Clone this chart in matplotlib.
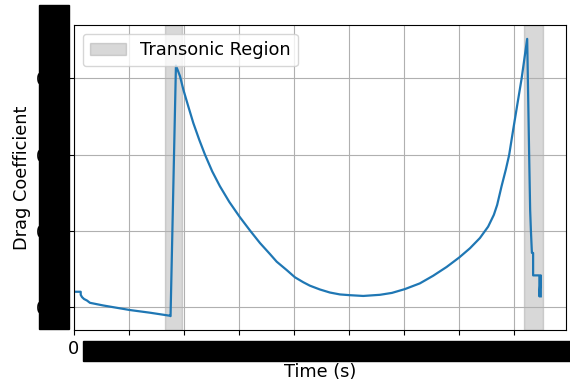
"""Drag coefficient over the flight, with transonic regions shaded."""

import matplotlib
matplotlib.use("Agg")
import matplotlib.pyplot as plt
from matplotlib.patches import Rectangle
from matplotlib.ticker import MultipleLocator

FS = 12.8

# Drag coefficient trace
time_s = [0.00, 0.61, 0.61, 0.73, 0.91, 1.18, 1.45, 2.66, 5.09, 6.91, 8.73,
          8.78, 9.27, 9.64, 9.94, 10.39, 10.85, 11.39, 11.91, 12.57, 13.27,
          14.12, 15.03, 16.00, 16.91, 17.82, 18.43, 19.34, 20.09, 20.85,
          21.45, 22.36, 23.27, 24.18, 25.09, 26.30, 27.82, 28.91, 30.09,
          31.45, 32.66, 33.88, 35.03, 36.00, 36.91, 37.66, 38.18, 38.48,
          38.88, 39.27, 39.57, 39.94, 40.39, 40.70, 41.21, 41.39, 41.48,
          41.55, 41.64, 41.75, 41.75, 42.32, 42.32, 42.45, 42.45]
drag_coef = [0.240, 0.240, 0.232, 0.226, 0.221, 0.217, 0.211, 0.204, 0.192,
             0.185, 0.177, 0.176, 0.834, 0.806, 0.771, 0.727, 0.683, 0.639,
             0.600, 0.556, 0.517, 0.476, 0.438, 0.401, 0.368, 0.339, 0.319,
             0.297, 0.278, 0.265, 0.256, 0.246, 0.238, 0.233, 0.231, 0.229,
             0.232, 0.237, 0.247, 0.262, 0.282, 0.305, 0.330, 0.354, 0.381,
             0.411, 0.442, 0.468, 0.517, 0.561, 0.599, 0.666, 0.745, 0.799,
             0.904, 0.599, 0.455, 0.400, 0.342, 0.342, 0.283, 0.283, 0.228,
             0.283, 0.228]

# Transonic windows (start, end) in seconds
transonic = [(8.27, 9.79), (40.91, 42.61)]

fig = plt.figure(figsize=(5.7, 3.83), dpi=100)
ax = fig.add_axes([74 / 570, 1 - 330 / 383, 492 / 570, 305 / 383])

for i, (t0, t1) in enumerate(transonic):
    ax.axvspan(t0, t1, color="gray", alpha=0.3,
               label="Transonic Region" if i == 0 else None)

ax.plot(time_s, drag_coef, color="#1f77b4", linewidth=1.6)

ax.set_xlim(left=0)
ax.xaxis.set_major_locator(MultipleLocator(5))
ax.yaxis.set_major_locator(MultipleLocator(0.2))
ax.yaxis.set_major_formatter(lambda v, pos: f"{v:.1f}")
ax.tick_params(labelsize=FS)
ax.set_xlabel("Time (s)", fontsize=FS)
ax.set_ylabel("Drag Coefficient", fontsize=FS)
ax.grid(True)
ax.legend(loc="upper left", fontsize=FS)

# black masks over the tick labels, as in the source image
fig.add_artist(Rectangle((39 / 570, 54 / 383), 30 / 570, 324 / 383,
                         transform=fig.transFigure, color="black", zorder=10))
fig.add_artist(Rectangle((83 / 570, 22 / 383), 487 / 570, 20 / 383,
                         transform=fig.transFigure, color="black", zorder=10))

fig.savefig("out.png", dpi=100)
